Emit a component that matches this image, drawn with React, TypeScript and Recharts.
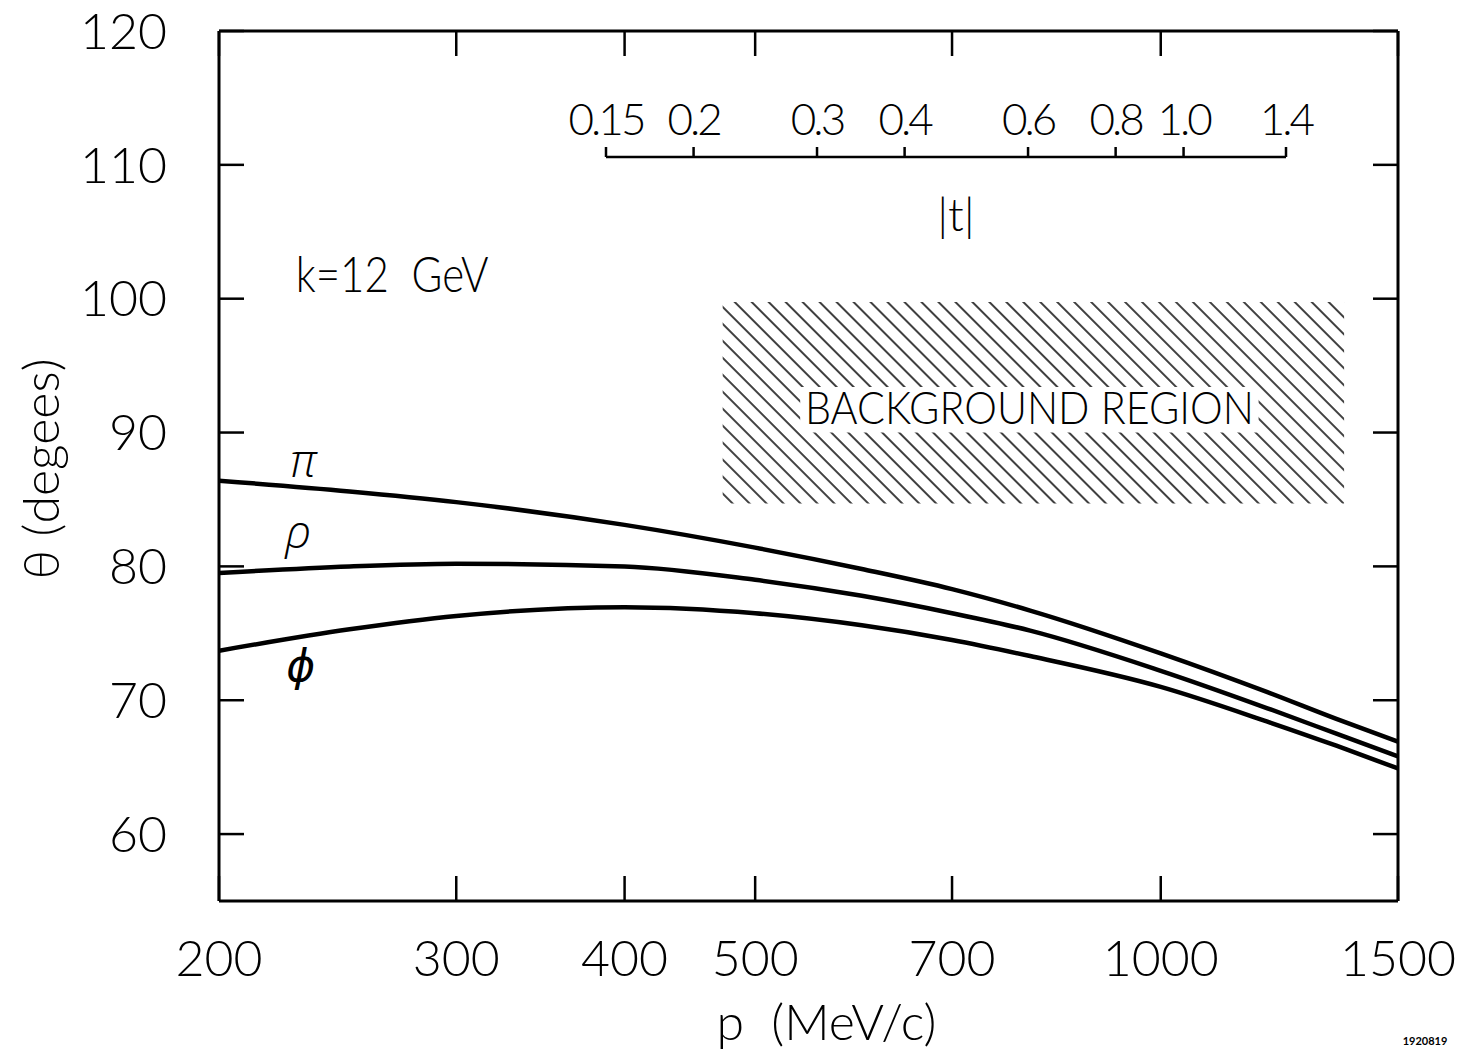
import React from "react"
import { LineChart, Line, XAxis, YAxis, ReferenceArea, ReferenceDot } from "recharts"

// p (MeV/c) sample points
const momentum = [200, 250, 300, 400, 500, 600, 700, 800, 1000, 1200, 1350, 1500]
// production angle theta (degrees) for each meson
const thetaPi = [86.4, 85.6, 84.8, 83.1, 81.4, 79.8, 78.3, 76.7, 73.5, 70.6, 68.6, 66.9]
const thetaRho = [79.5, 80.0, 80.2, 80.0, 79.0, 77.8, 76.5, 75.2, 72.2, 69.4, 67.5, 65.8]
const thetaPhi = [73.7, 75.3, 76.3, 76.95, 76.5, 75.6, 74.5, 73.3, 71.0, 68.4, 66.6, 64.9]

const pTicks = [200, 300, 400, 500, 700, 1000, 1500]
const thetaTicks = [60, 70, 80, 90, 100, 110, 120]
const tTicks = [0.15, 0.2, 0.3, 0.4, 0.6, 0.8, 1.0, 1.4]

// shaded "background region" and its label box, in data units
const bgP = [473, 1368]
const bgTheta = [84.7, 99.75]
const bgLabelP = [540, 1182]
const bgLabelTheta = [90.0, 93.4]

const FONT = "Lato, 'DejaVu Sans', sans-serif"
const GREEK = "'Open Sans', 'DejaVu Sans', sans-serif"

const chartData = momentum.map((p, i) => ({
  p,
  pi: thetaPi[i],
  rho: thetaRho[i],
  phi: thetaPhi[i],
}))

const tData = tTicks.map((t) => ({ t }))

const XTitle = ({ viewBox }: any) => {
  const { x, y, width } = viewBox
  return (
    <g>
      <text
        x={x + width / 2 + 18}
        y={y + 139}
        textAnchor="middle"
        fontSize={50}
        fontFamily={FONT}
        fontWeight={300}
        fill="#000"
        style={{ whiteSpace: "pre" }}
      >
        {"p  (MeV/c)"}
      </text>
      <text x={x + width + 27} y={y + 144} textAnchor="middle" fontSize={11} fontFamily={FONT} fontWeight={700} fill="#000">
        1920819
      </text>
    </g>
  )
}

const YTitle = ({ viewBox }: any) => {
  const cx = 40
  const cy = viewBox.y + viewBox.height / 2 + 3
  return (
    <text
      x={cx}
      y={cy}
      transform={`rotate(-90, ${cx}, ${cy})`}
      textAnchor="middle"
      dominantBaseline="central"
      fontSize={50}
      fontFamily={FONT}
      fontWeight={300}
      fill="#000"
    >
      θ (degees)
    </text>
  )
}

const textLabel = (value: string, opts: any) => (props: any) => {
  const { x, y } = props.viewBox
  return (
    <text x={x} y={y} fill="#000" {...opts}>
      {value}
    </text>
  )
}

const BgLabel = ({ viewBox }: any) => {
  const { x, y, width, height } = viewBox
  return (
    <text
      x={x + width / 2}
      y={y + height / 2 + 14}
      textAnchor="middle"
      fontSize={46}
      fontFamily={FONT}
      fontWeight={300}
      textLength={449}
      lengthAdjust="spacingAndGlyphs"
      fill="#000"
    >
      BACKGROUND REGION
    </text>
  )
}

const TTitle = ({ viewBox }: any) => {
  const { x, y, width, height } = viewBox
  return (
    <text x={x + width / 2 + 10} y={y + height + 74} textAnchor="middle" fontSize={46} fontFamily={FONT} fontWeight={300} fill="#000">
      |t|
    </text>
  )
}

export default function App() {
  const axisStroke = { stroke: "#000", strokeWidth: 3 }
  const tickStroke = { stroke: "#000", strokeWidth: 2.5 }
  const tickFont = { fill: "#000", fontSize: 50, fontFamily: FONT, fontWeight: 300 }

  return (
    <div style={{ position: "absolute", left: 0, top: 0, width: 1465, height: 1059, background: "#fff" }}>
      <LineChart width={1465} height={1059} data={chartData} margin={{ top: 30, right: 66, bottom: 0, left: 0 }}>
        <defs>
          <pattern id="hatch" patternUnits="userSpaceOnUse" width={12} height={12} patternTransform="rotate(-45)">
            <line x1={6} y1={-2} x2={6} y2={14} stroke="#000" strokeWidth={1.5} />
          </pattern>
        </defs>
        <XAxis
          dataKey="p"
          type="number"
          scale="log"
          domain={[200, 1500]}
          allowDataOverflow
          ticks={pTicks}
          interval={0}
          height={158}
          tickSize={-25}
          tickMargin={64}
          axisLine={axisStroke}
          tickLine={tickStroke}
          tick={tickFont}
          label={<XTitle />}
        />
        <XAxis
          xAxisId="top"
          dataKey="p"
          orientation="top"
          type="number"
          scale="log"
          domain={[200, 1500]}
          allowDataOverflow
          ticks={pTicks}
          interval={0}
          height={1}
          tickSize={-25}
          axisLine={axisStroke}
          tickLine={tickStroke}
          tickFormatter={() => ""}
        />
        <YAxis
          type="number"
          domain={[55, 120]}
          allowDataOverflow
          ticks={thetaTicks}
          interval={0}
          width={219}
          tickSize={-25}
          tickMargin={77}
          axisLine={axisStroke}
          tickLine={tickStroke}
          tick={tickFont}
          label={<YTitle />}
        />
        <YAxis
          yAxisId="right"
          orientation="right"
          type="number"
          domain={[55, 120]}
          allowDataOverflow
          ticks={thetaTicks}
          interval={0}
          width={1}
          tickSize={-25}
          axisLine={axisStroke}
          tickLine={tickStroke}
          tickFormatter={() => ""}
        />

        <ReferenceArea x1={bgP[0]} x2={bgP[1]} y1={bgTheta[0]} y2={bgTheta[1]} fill="url(#hatch)" fillOpacity={1} stroke="none" />
        <ReferenceArea
          x1={bgLabelP[0]}
          x2={bgLabelP[1]}
          y1={bgLabelTheta[0]}
          y2={bgLabelTheta[1]}
          fill="#fff"
          fillOpacity={1}
          stroke="none"
          label={<BgLabel />}
        />

        <ReferenceDot
          x={228}
          y={100.5}
          r={0}
          stroke="none"
          fill="none"
          label={textLabel("k=12  GeV", { fontSize: 50, fontFamily: FONT, fontWeight: 300, textLength: 193, lengthAdjust: "spacingAndGlyphs", style: { whiteSpace: "pre" } })}
        />
        <ReferenceDot x={231} y={86.7} r={0} stroke="none" fill="none" label={textLabel("π", { fontSize: 46, fontFamily: GREEK, fontStyle: "italic", fontWeight: 300, textAnchor: "middle" })} />
        <ReferenceDot x={229} y={81.4} r={0} stroke="none" fill="none" label={textLabel("ρ", { fontSize: 46, fontFamily: GREEK, fontStyle: "italic", fontWeight: 300, textAnchor: "middle" })} />
        <ReferenceDot x={230} y={71.4} r={0} stroke="none" fill="none" label={textLabel("ϕ", { fontSize: 44, fontFamily: "'DejaVu Sans', sans-serif", fontStyle: "italic", fontWeight: 400, textAnchor: "middle" })} />

        <Line type="monotone" dataKey="pi" stroke="#000" strokeWidth={4.5} dot={false} isAnimationActive={false} />
        <Line type="monotone" dataKey="rho" stroke="#000" strokeWidth={4.5} dot={false} isAnimationActive={false} />
        <Line type="monotone" dataKey="phi" stroke="#000" strokeWidth={4.5} dot={false} isAnimationActive={false} />
      </LineChart>

      {/* secondary |t| scale drawn inside the plot */}
      <div style={{ position: "absolute", left: 0, top: 0, pointerEvents: "none" }}>
        <LineChart width={1465} height={260} data={tData} margin={{ top: 97, right: 179, bottom: 20, left: 606 }}>
          <XAxis
            dataKey="t"
            orientation="top"
            type="number"
            scale="log"
            domain={[0.15, 1.4]}
            allowDataOverflow
            ticks={tTicks}
            interval={0}
            height={60}
            tickSize={10}
            tickMargin={12}
            axisLine={{ stroke: "#000", strokeWidth: 2.5 }}
            tickLine={{ stroke: "#000", strokeWidth: 2.5 }}
            tick={{ fill: "#000", fontSize: 44, fontFamily: FONT, fontWeight: 300, letterSpacing: -3 }}
            tickFormatter={(v: number) => (v === 1 ? "1.0" : String(v))}
            label={<TTitle />}
          />
          <YAxis hide domain={[0, 1]} />
        </LineChart>
      </div>
    </div>
  )
}
